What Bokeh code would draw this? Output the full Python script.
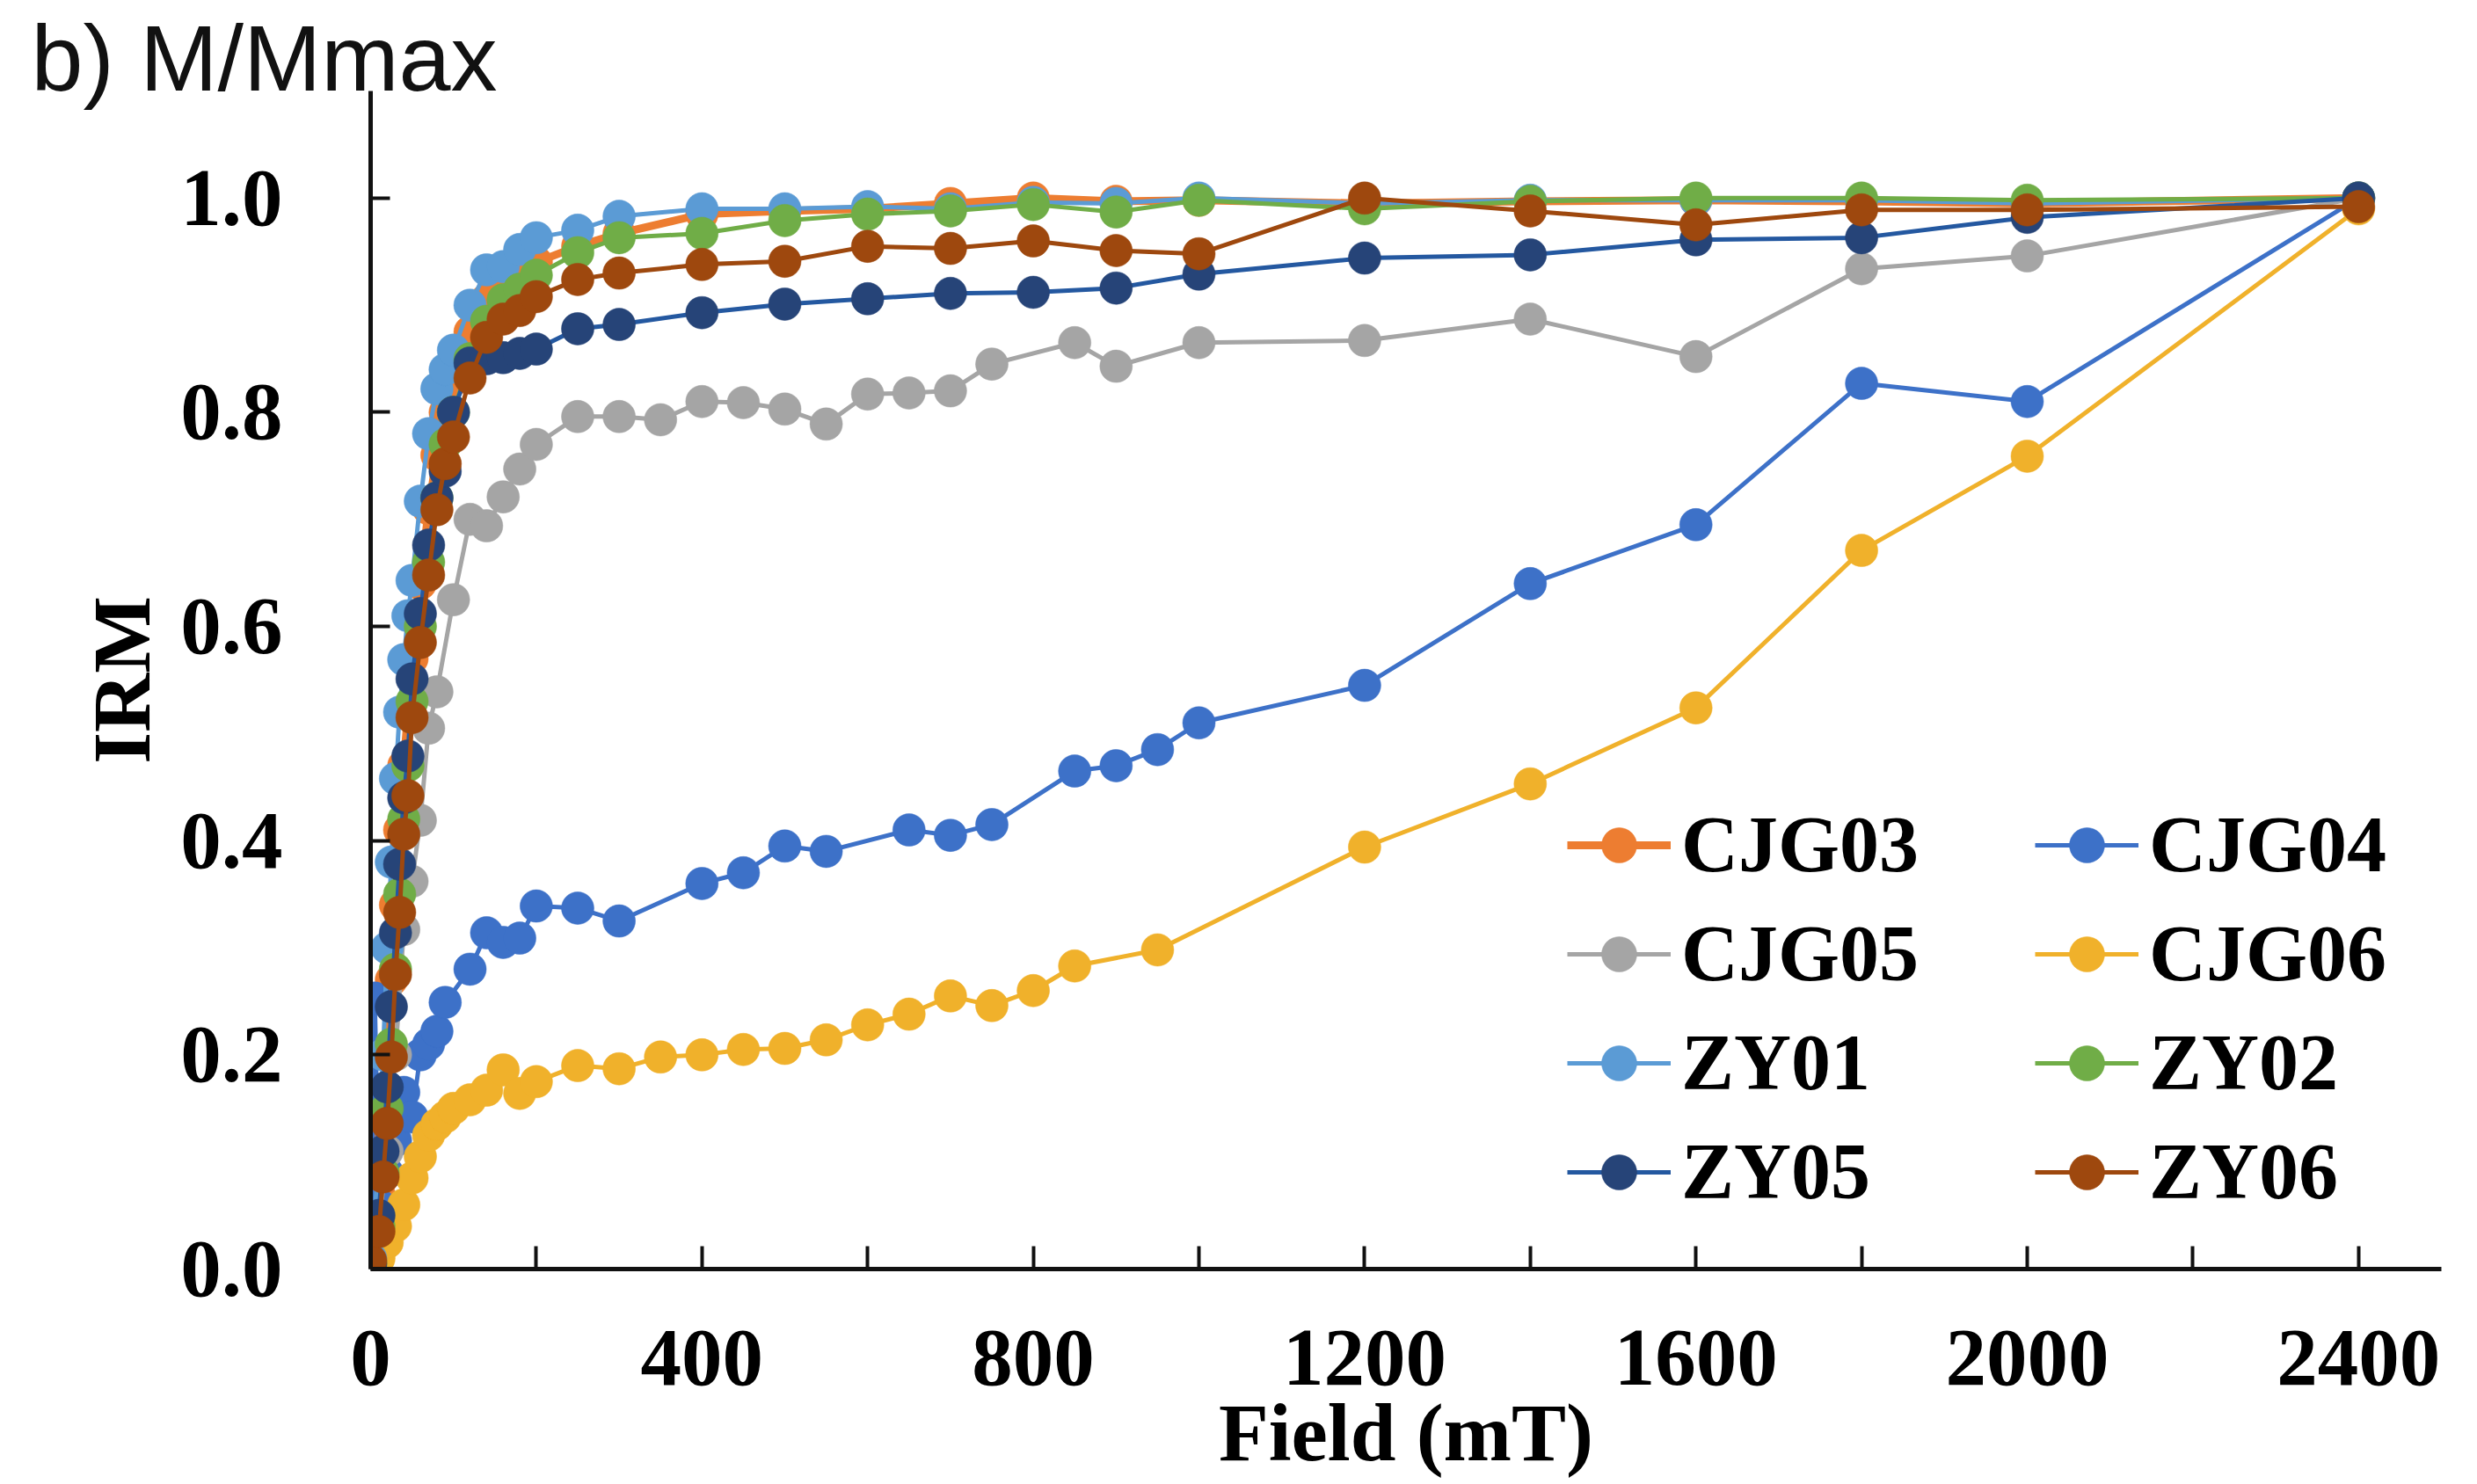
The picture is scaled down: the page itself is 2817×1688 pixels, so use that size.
from bokeh.plotting import figure
from bokeh.models import (Range1d, FixedTicker, Legend, LegendItem,
                          PrintfTickFormatter)
from bokeh.embed import file_html
from bokeh.resources import INLINE

# ---- IRM acquisition data (normalised, M/Mmax) ----
# applied field steps, mT
FIELD_ZY = [0, 10, 15, 20, 25, 30, 35, 40, 45, 50, 60, 70, 80, 90, 100, 120, 140, 160,
            180, 200, 250, 300, 400, 500, 600, 700, 800, 900, 1000, 1200, 1400, 1600,
            1800, 2000, 2400]
FIELD_CJG04 = [0, 5, 10, 20, 30, 40, 50, 60, 70, 80, 90, 120, 140, 160, 180, 200, 250,
               300, 400, 450, 500, 550, 650, 700, 750, 850, 900, 950, 1000, 1200, 1400,
               1600, 1800, 2000, 2400]
FIELD_CJG05 = [0, 10, 20, 30, 40, 50, 60, 70, 80, 100, 120, 140, 160, 180, 200, 250, 300,
               350, 400, 450, 500, 550, 600, 650, 700, 750, 850, 900, 1000, 1200, 1400,
               1600, 1800, 2000, 2400]
FIELD_CJG06 = [0, 10, 20, 30, 40, 50, 60, 70, 80, 90, 100, 120, 140, 160, 180, 200, 250,
               300, 350, 400, 450, 500, 550, 600, 650, 700, 750, 800, 850, 950, 1200, 1400,
               1600, 1800, 2000, 2400]

CJG03 = [0.01, 0.07, 0.13, 0.20, 0.27, 0.34, 0.41, 0.47, 0.52, 0.57, 0.64, 0.71, 0.76,
         0.80, 0.83, 0.875, 0.905, 0.92, 0.93, 0.94, 0.955, 0.967, 0.985, 0.988, 0.99,
         0.995, 1.0, 0.997, 0.998, 0.995, 0.997, 0.998, 0.997, 0.995, 1.0]
CJG04 = [0.01, 0.253, 0.06, 0.09, 0.12, 0.165, 0.142, 0.20, 0.21, 0.222, 0.249, 0.28,
         0.314, 0.305, 0.309, 0.339, 0.337, 0.325, 0.36, 0.37, 0.395, 0.39, 0.41, 0.405,
         0.415, 0.465, 0.47, 0.485, 0.51, 0.545, 0.64, 0.695, 0.827, 0.81, 1.0]
CJG05 = [0.005, 0.04, 0.11, 0.20, 0.317, 0.362, 0.419, 0.505, 0.539, 0.625, 0.70, 0.694,
         0.721, 0.747, 0.77, 0.796, 0.796, 0.793, 0.81, 0.809, 0.803, 0.789, 0.817, 0.818,
         0.82, 0.845, 0.865, 0.843, 0.865, 0.867, 0.887, 0.852, 0.934, 0.946, 1.0]
CJG06 = [0.0, 0.01, 0.025, 0.04, 0.06, 0.085, 0.105, 0.125, 0.135, 0.142, 0.15, 0.158,
         0.167, 0.186, 0.164, 0.175, 0.19, 0.187, 0.198, 0.20, 0.205, 0.206, 0.214, 0.228,
         0.238, 0.255, 0.246, 0.26, 0.283, 0.298, 0.394, 0.453, 0.524, 0.671, 0.759, 0.99]
ZY01 = [0.01, 0.10, 0.20, 0.30, 0.38, 0.458, 0.52, 0.569, 0.61, 0.643, 0.717, 0.78, 0.822,
        0.84, 0.858, 0.90, 0.933, 0.936, 0.952, 0.963, 0.97, 0.983, 0.99, 0.99, 0.992,
        0.99, 0.996, 0.995, 1.0, 0.995, 0.998, 0.998, 0.998, 0.995, 1.0]
ZY02 = [0.005, 0.04, 0.09, 0.15, 0.21, 0.28, 0.35, 0.42, 0.47, 0.53, 0.60, 0.66, 0.72,
        0.77, 0.80, 0.85, 0.885, 0.905, 0.915, 0.928, 0.949, 0.963, 0.967, 0.979, 0.985,
        0.988, 0.994, 0.987, 0.998, 0.99, 0.997, 1.0, 1.0, 0.998, 1.0]
ZY05 = [0.005, 0.05, 0.11, 0.17, 0.245, 0.314, 0.378, 0.44, 0.479, 0.551, 0.612, 0.676,
        0.72, 0.745, 0.80, 0.846, 0.85, 0.851, 0.855, 0.859, 0.878, 0.882, 0.893, 0.901,
        0.906, 0.911, 0.912, 0.916, 0.929, 0.944, 0.947, 0.961, 0.963, 0.982, 1.0]
ZY06 = [0.008, 0.035, 0.086, 0.136, 0.198, 0.275, 0.333, 0.406, 0.442, 0.515, 0.585,
        0.648, 0.709, 0.752, 0.777, 0.832, 0.87, 0.887, 0.895, 0.908, 0.924, 0.93, 0.938,
        0.941, 0.955, 0.953, 0.96, 0.951, 0.948, 1.0, 0.988, 0.975, 0.989, 0.989, 0.992]

NAMES = ["CJG03", "CJG04", "CJG05", "CJG06", "ZY01", "ZY02", "ZY05", "ZY06"]
FIELDS = [FIELD_ZY, FIELD_CJG04, FIELD_CJG05, FIELD_CJG06, FIELD_ZY, FIELD_ZY, FIELD_ZY, FIELD_ZY]
VALUES = [CJG03, CJG04, CJG05, CJG06, ZY01, ZY02, ZY05, ZY06]
LINE_COLORS = ["#ED7D31", "#3D71C8", "#A5A5A5", "#F0B12B", "#5B9BD5", "#70AD47", "#2458A0", "#9E480E"]
MARK_COLORS = ["#ED7D31", "#3D71C8", "#A5A5A5", "#F0B12B", "#5B9BD5", "#70AD47", "#264478", "#9E480E"]
LINE_WIDTHS = [9, 5, 5, 5, 5, 5, 5, 5]

X_TICKS = [0, 400, 800, 1200, 1600, 2000, 2400]
X_MINOR = [200, 600, 1000, 1400, 1800, 2200]
Y_TICKS = [0.0, 0.2, 0.4, 0.6, 0.8, 1.0]

SERIF = "Liberation Serif"
SANS = "Liberation Sans"

p = figure(width=2817, height=1688, output_backend="svg", toolbar_location=None,
           x_range=Range1d(0, 2500), y_range=Range1d(0, 1.1),
           min_border_left=421, min_border_right=41, min_border_top=103,
           min_border_bottom=245)
p.outline_line_color = None
p.xgrid.grid_line_color = None
p.ygrid.grid_line_color = None
p.background_fill_color = "white"
p.border_fill_color = "white"

# panel heading, top-left
p.title.text = "b) M/Mmax"
p.title.align = "left"
p.title.offset = -386
p.title.standoff = -42
p.title.vertical_align = "bottom"
p.title.text_font = SANS
p.title.text_font_size = "106px"
p.title.text_font_style = "normal"
p.title.text_color = "#111111"

renderers = {}
for name, fx, vy, lc, mc, lw in zip(NAMES, FIELDS, VALUES, LINE_COLORS, MARK_COLORS, LINE_WIDTHS):
    ln = p.line(fx, vy, line_color=lc, line_width=lw)
    sc = p.scatter(fx, vy, marker="circle", size=37, fill_color=mc, line_color=mc,
                   line_width=0.5)
    renderers[name] = [ln, sc]

# axes with ticks pointing inwards
for ax in (p.xaxis[0], p.yaxis[0]):
    ax.axis_line_width = 5
    ax.axis_line_color = "#111111"
    ax.major_tick_line_width = 4
    ax.major_tick_line_color = "#111111"
    ax.major_tick_out = 0
    ax.major_label_text_font = SERIF
    ax.major_label_text_font_style = "bold"
    ax.major_label_text_font_size = "93px"
    ax.major_label_text_color = "black"
    ax.axis_label_text_font = SERIF
    ax.axis_label_text_font_style = "bold"
    ax.axis_label_text_font_size = "93px"
    ax.axis_label_text_color = "black"

xa = p.xaxis[0]
xa.ticker = FixedTicker(ticks=X_TICKS, minor_ticks=X_MINOR)
xa.major_tick_in = 26
xa.minor_tick_in = 26
xa.minor_tick_out = 0
xa.minor_tick_line_width = 4
xa.minor_tick_line_color = "#111111"
xa.major_label_standoff = 70
xa.axis_label = "Field (mT)"
xa.axis_label_standoff = 0

ya = p.yaxis[0]
ya.ticker = FixedTicker(ticks=Y_TICKS)
ya.formatter = PrintfTickFormatter(format="%.1f")
ya.major_tick_in = 22
ya.minor_tick_out = 0
ya.minor_tick_in = 0
ya.major_label_standoff = 100
ya.axis_label = "IRM"
ya.axis_label_standoff = 12

# two-column legend
def make_legend(names, loc):
    return Legend(items=[LegendItem(label=n, renderers=renderers[n]) for n in names],
                  location=loc, orientation="vertical", padding=0, margin=0, spacing=21,
                  glyph_width=118, glyph_height=100, label_standoff=12,
                  label_text_font=SERIF, label_text_font_style="bold",
                  label_text_font_size="90px", label_text_color="black",
                  background_fill_alpha=0, border_line_alpha=0)

p.add_layout(make_legend(["CJG03", "CJG05", "ZY01", "ZY05"], (1361, 59)))
p.add_layout(make_legend(["CJG04", "CJG06", "ZY02", "ZY06"], (1893, 59)))

open("out.html", "w").write(file_html(p, INLINE))
